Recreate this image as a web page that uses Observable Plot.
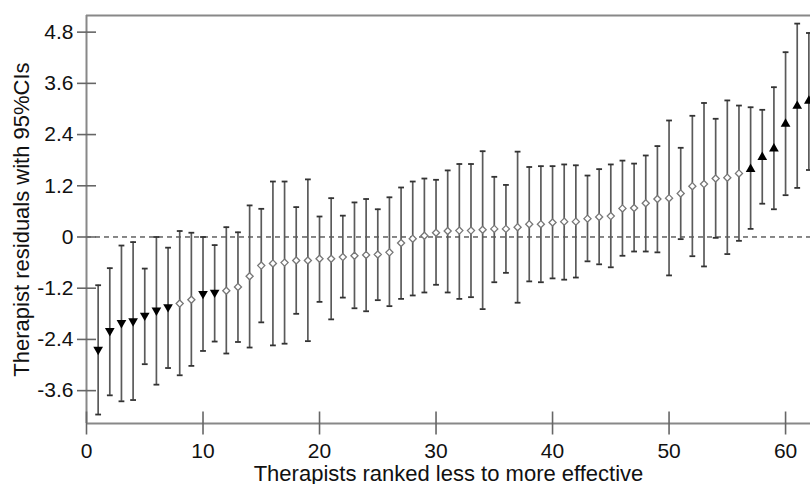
<!DOCTYPE html>
<html>
<head>
<meta charset="utf-8">
<script src="https://cdn.jsdelivr.net/npm/d3@7"></script>
<script src="https://cdn.jsdelivr.net/npm/@observablehq/plot@0.6"></script>
<style>
  html, body { margin: 0; padding: 0; background: #fff; }
  #chart svg { display: block; }
</style>
</head>
<body>
<div id="chart"></div>
<script>
// Therapist rank (1 = least effective)
const ranks = [1,2,3,4,5,6,7,8,9,10,11,12,13,14,15,16,17,18,19,20,21,22,23,24,25,26,27,28,29,30,31,32,33,34,35,36,37,38,39,40,41,42,43,44,45,46,47,48,49,50,51,52,53,54,55,56,57,58,59,60,61,62];
// Therapist residual (point estimate)
const estimates = [-2.64,-2.20,-2.01,-1.97,-1.84,-1.72,-1.64,-1.56,-1.47,-1.33,-1.30,-1.26,-1.17,-0.92,-0.67,-0.62,-0.60,-0.55,-0.55,-0.51,-0.51,-0.47,-0.44,-0.42,-0.41,-0.36,-0.14,-0.04,0.03,0.10,0.14,0.15,0.15,0.17,0.19,0.19,0.23,0.30,0.30,0.34,0.36,0.36,0.43,0.47,0.49,0.67,0.68,0.79,0.89,0.91,1.02,1.19,1.24,1.37,1.39,1.49,1.59,1.87,2.07,2.65,3.07,3.19];
// Upper 95% CI
const upper = [-1.13,-0.73,-0.20,-0.12,-0.74,0.00,-0.25,0.14,0.10,0.00,-0.19,0.23,0.11,0.74,0.66,1.30,1.30,0.70,1.35,0.48,0.91,0.50,0.81,0.89,0.65,0.93,1.16,1.30,1.37,1.34,1.56,1.71,1.71,2.01,1.41,1.22,2.00,1.64,1.66,1.66,1.70,1.68,1.44,1.59,1.70,1.79,1.72,1.91,2.13,2.73,2.09,2.84,3.14,2.77,3.20,3.08,3.04,2.98,3.51,4.33,5.00,4.78];
// Lower 95% CI
const lower = [-4.16,-3.71,-3.85,-3.82,-2.98,-3.46,-3.07,-3.24,-3.02,-2.67,-2.45,-2.73,-2.46,-2.59,-2.00,-2.54,-2.50,-1.80,-2.44,-1.52,-1.93,-1.42,-1.67,-1.74,-1.48,-1.62,-1.45,-1.37,-1.30,-1.12,-1.30,-1.45,-1.41,-1.69,-1.06,-0.84,-1.54,-1.04,-1.06,-0.97,-1.00,-0.95,-0.57,-0.64,-0.71,-0.44,-0.34,-0.34,-0.36,-0.90,-0.05,-0.45,-0.69,-0.02,-0.40,-0.09,0.19,0.78,0.65,0.98,1.15,1.57];
// Marker groups
const belowAverage = [1,2,3,4,5,6,7,10,11];   // filled downward triangles
const aboveAverage = [57,58,59,60,61,62];      // filled upward triangles

const xTicks = [0,10,20,30,40,50,60];
const yTicks = [-3.6,-2.4,-1.2,0,1.2,2.4,3.6,4.8];
const xDomain = [0, 62.14];
const yDomain = [-4.37, 5.19];
const xTitle = "Therapists ranked less to more effective";
const yTitle = "Therapist residuals with 95%CIs";

const rows = ranks.map((r, i) => ({
  rank: r, est: estimates[i], lo: lower[i], hi: upper[i],
  kind: belowAverage.includes(r) ? "down" : aboveAverage.includes(r) ? "up" : "ns"
}));

// horizontal cap symbol for error bars
const cap = {draw(ctx, size) { const w = Math.sqrt(size / Math.PI); ctx.moveTo(-w, 0); ctx.lineTo(w, 0); }};

const font = "'Liberation Sans', Arial, sans-serif";

const chart = Plot.plot({
  width: 810,
  height: 484,
  marginLeft: 86,
  marginRight: 0,
  marginTop: 15,
  marginBottom: 61,
  style: {fontFamily: font, fontSize: "21px", color: "#111", background: "#fff", overflow: "hidden"},
  x: {domain: xDomain},
  y: {domain: yDomain},
  marks: [
    Plot.ruleY([0], {stroke: "#111", strokeWidth: 1, strokeDasharray: "5,4"}),
    Plot.ruleX(rows, {x: "rank", y1: "lo", y2: "hi", stroke: "#5a5a5a", strokeWidth: 1.7}),
    Plot.dot(rows, {x: "rank", y: "hi", symbol: cap, r: 2.9, stroke: "#333", strokeWidth: 1.8, fill: "none"}),
    Plot.dot(rows, {x: "rank", y: "lo", symbol: cap, r: 2.9, stroke: "#333", strokeWidth: 1.8, fill: "none"}),
    Plot.dot(rows.filter(d => d.kind === "ns"), {x: "rank", y: "est", symbol: "diamond2", r: 3.2, stroke: "#777", strokeWidth: 1.3, fill: "#fff"}),
    Plot.dot(rows.filter(d => d.kind === "down"), {x: "rank", y: "est", symbol: "triangle", rotate: 180, r: 3.6, fill: "#000", stroke: "none"}),
    Plot.dot(rows.filter(d => d.kind === "up"), {x: "rank", y: "est", symbol: "triangle", r: 3.6, fill: "#000", stroke: "none"}),
    Plot.ruleX([xDomain[0]], {stroke: "#888", strokeWidth: 2}),
    Plot.ruleY([yDomain[0]], {stroke: "#888", strokeWidth: 2}),
    Plot.ruleY([yDomain[1]], {stroke: "#888", strokeWidth: 2}),
    Plot.axisY({ticks: yTicks, tickFormat: d => String(d), tickSize: 19, dx: 10, tickPadding: 4,
      stroke: "#666", strokeWidth: 1.6, label: null, fontSize: 21}),
    Plot.axisY({ticks: [], tickSize: 0, label: yTitle, labelArrow: "none", labelAnchor: "center", labelOffset: 73, fontSize: 22}),
    Plot.axisX({ticks: xTicks, tickSize: 23, dy: -11.5, tickPadding: 8.5,
      stroke: "#666", strokeWidth: 1.6, label: null, fontSize: 21}),
    Plot.axisX({ticks: [], tickSize: 0, label: xTitle, labelArrow: "none", labelAnchor: "center", labelOffset: 57, fontSize: 22})
  ]
});
document.getElementById("chart").appendChild(chart);
</script>
</body>
</html>
